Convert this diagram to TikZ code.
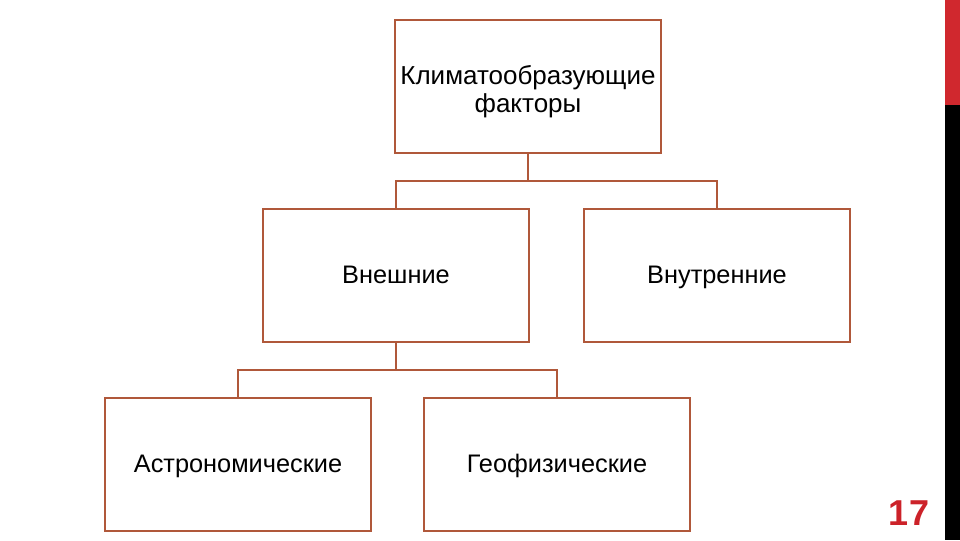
\documentclass[tikz,border=0pt]{standalone}
\usepackage{fontspec}
\setmainfont{Liberation Sans}
\definecolor{boxline}{HTML}{B0583A}
\definecolor{barred}{HTML}{D0282E}
\definecolor{numred}{HTML}{CC2229}
\begin{document}
\begin{tikzpicture}[x=0.75pt,y=-0.75pt,
  fbox/.style={draw=boxline,line width=1.5pt,minimum width=266*0.75pt,minimum height=133*0.75pt,
    inner sep=0pt,align=center,font=\fontsize{19}{22}\selectfont,text=black},
  onel/.style={text height=12pt,text depth=0pt},
  conn/.style={draw=boxline,line width=1.5pt}]
\useasboundingbox[fill=white] (0,0) rectangle (960,540);
\fill[barred] (945,0) rectangle (960,105);
\fill[black] (945,105) rectangle (960,540);
\node[fbox] (top) at (528,86.5) {};
\node[align=center,font=\fontsize{19.5}{21}\selectfont,inner sep=0pt] (toptext) at (528,91.5) {Климатообразующие\\факторы};
\node[fbox,onel] (ext) at (396,275) {Внешние};
\node[fbox,onel] (int) at (717,275) {Внутренние};
\node[fbox,onel] (ast) at (238,464) {Астрономические};
\node[fbox,onel] (geo) at (557,464) {Геофизические};
\coordinate (j1) at (528,181);
\coordinate (j2) at (396,370);
\draw[conn] (top.south) -- (j1);
\draw[conn] (ext.north) |- (j1) -| (int.north);
\draw[conn] (ext.south) -- (j2);
\draw[conn] (ast.north) |- (j2) -| (geo.north);
\node[text=numred,font=\fontsize{27}{27}\selectfont\bfseries] (num) at (909,513) {17};
\end{tikzpicture}
\end{document}
